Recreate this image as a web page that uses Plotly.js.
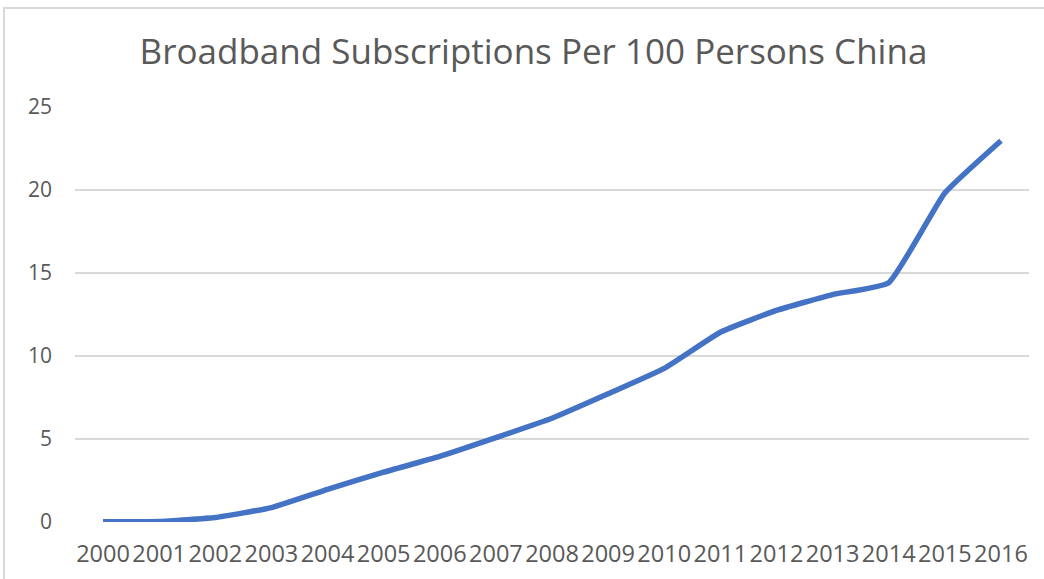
<!DOCTYPE html>
<html>
<head>
<meta charset="utf-8">
<script src="https://cdn.plot.ly/plotly-3.0.1.min.js"></script>
<style>html,body{margin:0;padding:0;background:#fff;}#chart{width:1044px;height:579px;}</style>
</head>
<body>
<div id="chart"></div>
<script>
const years = ['2000','2001','2002','2003','2004','2005','2006','2007','2008','2009','2010','2011','2012','2013','2014','2015','2016'];
const subscriptions = [0.02, 0.03, 0.27, 0.87, 1.97, 3.0, 3.95, 5.08, 6.25, 7.72, 9.25, 11.43, 12.75, 13.7, 14.42, 19.82, 22.97];
const yTicks = [0, 5, 10, 15, 20, 25];
const chartTitle = 'Broadband Subscriptions Per 100 Persons China';

const textColor = '#595959';
const fam = '"Open Sans", Lato, sans-serif';
const trace = {
  x: years,
  y: subscriptions,
  type: 'scatter',
  mode: 'lines',
  line: {color: '#4472C4', width: 5.5, shape: 'spline', smoothing: 0.4},
  hoverinfo: 'x+y'
};
const layout = {
  width: 1044, height: 579,
  margin: {l: 75, r: 15, t: 107, b: 57},
  paper_bgcolor: '#ffffff', plot_bgcolor: '#ffffff',
  showlegend: false,
  font: {family: fam, color: textColor},
  title: {text: chartTitle, x: 0.511, xanchor: 'center', y: 0.91, yanchor: 'middle',
          font: {size: 35, color: textColor, family: fam}},
  xaxis: {type: 'category', range: [-0.5, 16.5], showgrid: false, zeroline: false, showline: false,
          ticks: '', tickfont: {size: 23.5, color: textColor}, ticklabelstandoff: 15, fixedrange: true},
  yaxis: {range: [0, 25], tickvals: yTicks, showgrid: true, gridcolor: '#d9d9d9', gridwidth: 2,
          zeroline: false, showline: false, ticks: '', tickfont: {size: 21, color: textColor},
          ticklabelstandoff: 22, fixedrange: true},
  shapes: [{type: 'rect', xref: 'paper', yref: 'paper', x0: -0.0744, x1: 1.2, y0: -0.3, y1: 1.2386,
            line: {color: '#d9d9d9', width: 2}, fillcolor: 'rgba(0,0,0,0)', layer: 'below'}]
};
Plotly.newPlot('chart', [trace], layout, {displayModeBar: false, staticPlot: true});
</script>
</body>
</html>
